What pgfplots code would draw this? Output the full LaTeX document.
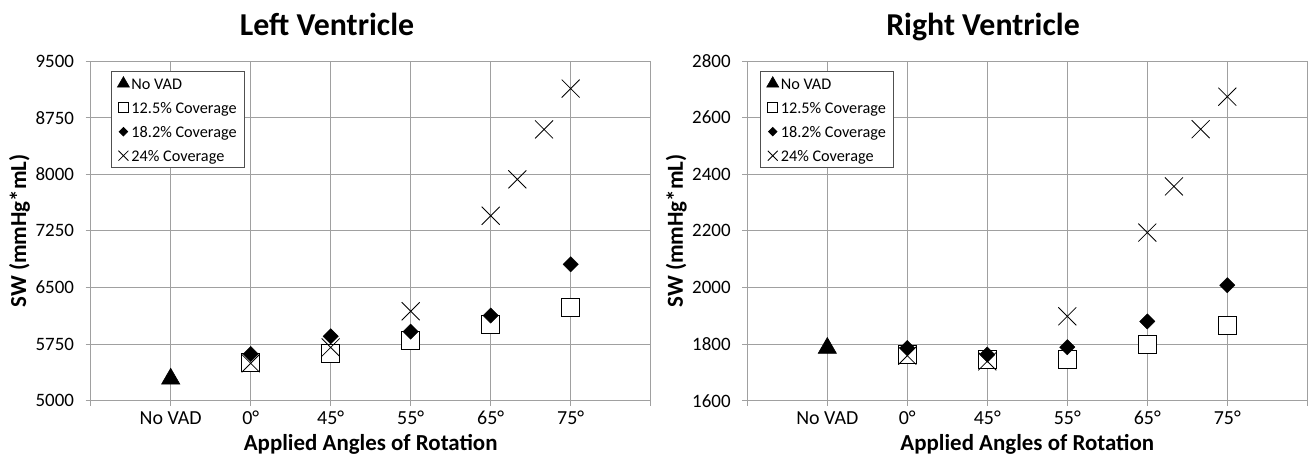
\documentclass[border=0pt]{standalone}
\usepackage{pgfplots}
\pgfplotsset{compat=1.18}
\usepackage{fontspec}
\setmainfont{Carlito}
\definecolor{gridc}{HTML}{A0A0A0}
\definecolor{legc}{HTML}{505050}

\pgfplotsset{
  vadax/.style={
    scale only axis, width=560bp, height=339.7bp,
    xmin=0, xmax=7,
    xtick={0,1,2,3,4,5,6,7},
    xticklabels={,No VAD,0°,45°,55°,65°,75°,},
    grid=major,
    major grid style={draw=gridc, line width=0.9bp},
    axis line style={draw=gridc, line width=0.9bp},
    every tick/.style={draw=gridc, line width=0.9bp},
    tick align=outside, major tick length=5bp,
    xtick pos=bottom, ytick pos=left,
    /pgf/number format/assume math mode=true,
    /pgf/number format/1000 sep={},
    xticklabel style={font=\fontsize{20}{24}\selectfont, anchor=base, yshift=-19bp},
    yticklabel style={font=\fontsize{19}{23}\selectfont, anchor=east, inner xsep=0pt, xshift=-11.5bp},
    xlabel={Applied Angles of Rotation},
    xlabel style={font=\bfseries\fontsize{23}{28}\selectfont, at={(axis description cs:0.5,0)}, anchor=base, yshift=-49.3bp},
    ylabel={SW (mmHg*mL)},
    ylabel style={font=\bfseries\fontsize{23}{28}\selectfont, at={(axis description cs:-0.127,0.5)}, anchor=center},
    legend cell align=left,
    legend style={draw=legc, line width=1bp, fill=white,
      font=\fontsize{16.3}{19}\selectfont,
      inner xsep=6bp, inner ysep=4bp,
      nodes={inner ysep=0bp, inner xsep=2bp, text height=14bp, text depth=2bp},
      row sep=8bp,
      anchor=north west},
    legend image code/.code={\draw[mark repeat=2,mark phase=2,##1] plot coordinates {(0bp,0bp)(5bp,0bp)(10bp,0bp)};},
    clip=false,
  },
  novad/.style={only marks, mark=triangle*, mark size=10.5bp, color=black, mark options={line width=0.6bp},
    legend image post style={mark size=7bp}},
  cov125/.style={only marks, mark=square*, mark size=9bp, draw=black, fill=white, mark options={line width=0.9bp, fill=white},
    legend image post style={mark size=5bp}},
  cov182/.style={only marks, mark=square*, mark size=5.4bp, color=black, mark options={rotate=45},
    legend image post style={mark size=2.9bp}},
  cov24/.style={only marks, mark=x, mark size=12.7bp, color=black, mark options={line width=0.8bp},
    legend image post style={mark size=7bp}},
}

\begin{document}
\begin{tikzpicture}
\path[use as bounding box] (0,0) rectangle (1311bp,456bp);

\node[anchor=base, font=\bfseries\fontsize{32}{38}\selectfont] at (327bp,420bp) {Left Ventricle};
\node[anchor=base, font=\bfseries\fontsize{32}{38}\selectfont] at (983bp,420bp) {Right Ventricle};

\begin{axis}[vadax, at={(90.7bp,55.3bp)}, anchor=south west,
  ymin=5000, ymax=9500, ytick={5000,5750,6500,7250,8000,8750,9500},
  legend style={at={(axis description cs:0.036,0.97)}}]
\addplot[novad] coordinates {(1,5290)};
\addplot[cov125] coordinates {(2,5504) (3,5628) (4,5804) (5,6015) (6,6240)};
\addplot[cov182] coordinates {(2,5619) (3,5853) (4,5915) (5,6128) (6,6807)};
\addplot[cov24] coordinates {(2,5495) (3,5705) (4,6185) (5,7450) (5.333,7932) (5.667,8594) (6,9135)};
\legend{No VAD,12.5\% Coverage,18.2\% Coverage,24\% Coverage}
\end{axis}

\begin{axis}[vadax, at={(747.3bp,55.3bp)}, anchor=south west,
  ymin=1600, ymax=2800, ytick={1600,1800,2000,2200,2400,2600,2800},
  legend style={at={(axis description cs:0.023,0.97)}}]
\addplot[novad] coordinates {(1,1786)};
\addplot[cov125] coordinates {(2,1765) (3,1745) (4,1746) (5,1797) (6,1865)};
\addplot[cov182] coordinates {(2,1786) (3,1763) (4,1789) (5,1880) (6,2008)};
\addplot[cov24] coordinates {(2,1759) (3,1739) (4,1898) (5,2194) (5.333,2357) (5.667,2559) (6,2674)};
\legend{No VAD,12.5\% Coverage,18.2\% Coverage,24\% Coverage}
\end{axis}
\end{tikzpicture}
\end{document}
